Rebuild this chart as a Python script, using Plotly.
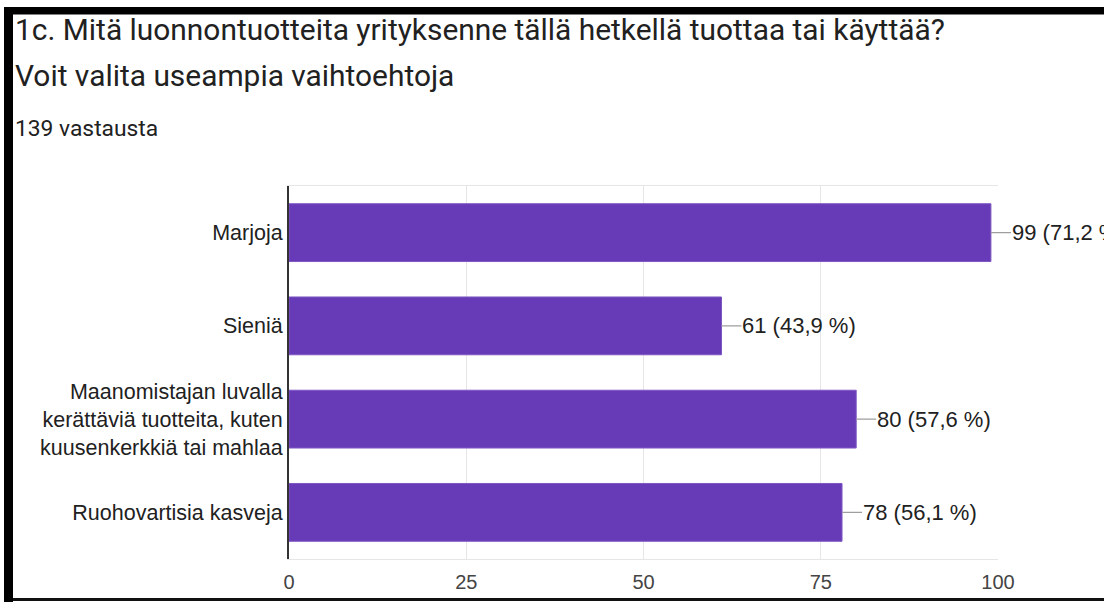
import plotly.graph_objects as go

# Survey answers (139 respondents, multiple choice)
categories = [
    "Marjoja",
    "Sieniä",
    "Maanomistajan luvalla<br>kerättäviä tuotteita, kuten<br>kuusenkerkkiä tai mahlaa",
    "Ruohovartisia kasveja",
]
counts = [99, 61, 80, 78]
percents = [71.2, 43.9, 57.6, 56.1]
x_ticks = [0, 25, 50, 75, 100]

title_line1 = "1c. Mitä luonnontuotteita yrityksenne tällä hetkellä tuottaa tai käyttää?"
title_line2 = "Voit valita useampia vaihtoehtoja"
subtitle = "139 vastausta"

W, H = 1104, 602
ML, MR, MT, MB = 289, 106, 186, 43
PW, PH = W - ML - MR, H - MT - MB


def px_x(p):
    return (p - ML) / PW


def px_y(p):
    return (H - MB - p) / PH


fig = go.Figure(
    go.Bar(
        x=counts,
        y=categories,
        orientation="h",
        marker=dict(color="#673AB7", line=dict(color="#7E57C2", width=1)),
        hoverinfo="skip",
    )
)

annotations = []
for c, p, cat in zip(counts, percents, categories):
    annotations.append(dict(
        x=c, y=cat, xref="x", yref="y",
        text=f"{c} ({p:.1f} %)".replace(".", ","),
        showarrow=True, arrowhead=0, arrowwidth=1.2, arrowcolor="#9e9e9e",
        ax=20, ay=0, xanchor="left", standoff=0, borderpad=0,
        font=dict(family="Liberation Sans, Arial", size=22, color="#212121"),
    ))

text_font = dict(family="Roboto", color="#212121")
annotations += [
    dict(x=px_x(13), y=px_y(30), xref="paper", yref="paper", xanchor="left",
         yanchor="middle", showarrow=False, text=title_line1,
         font=dict(size=29.9, **text_font)),
    dict(x=px_x(13), y=px_y(75), xref="paper", yref="paper", xanchor="left",
         yanchor="middle", showarrow=False, text=title_line2,
         font=dict(size=29.9, **text_font)),
    dict(x=px_x(13), y=px_y(129), xref="paper", yref="paper", xanchor="left",
         yanchor="middle", showarrow=False, text=subtitle,
         font=dict(size=22.8, **text_font)),
]

# Dark frame around the card
frame = "#000000"
shapes = [
    dict(type="rect", xref="paper", yref="paper", x0=px_x(4), x1=px_x(13),
         y0=px_y(602), y1=px_y(7), fillcolor=frame, line_width=0, layer="above"),
    dict(type="rect", xref="paper", yref="paper", x0=px_x(13), x1=px_x(1104),
         y0=px_y(14.5), y1=px_y(7), fillcolor=frame, line_width=0, layer="above"),
    dict(type="rect", xref="paper", yref="paper", x0=px_x(13), x1=px_x(1104),
         y0=px_y(601), y1=px_y(598), fillcolor="#111111", line_width=0, layer="above"),
]

fig.update_layout(
    width=W, height=H,
    margin=dict(l=ML, r=MR, t=MT, b=MB, pad=0),
    paper_bgcolor="white", plot_bgcolor="white",
    showlegend=False,
    bargap=0.38,
    annotations=annotations,
    shapes=shapes,
    xaxis=dict(
        range=[0, 100], tickvals=x_ticks, ticktext=[str(t) for t in x_ticks],
        showgrid=True, gridcolor="#e6e6e6", gridwidth=1,
        showline=True, linecolor="#e6e6e6", linewidth=1, mirror=True,
        zeroline=False, ticks="outside", ticklen=5, tickcolor="rgba(0,0,0,0)",
        tickfont=dict(family="Liberation Sans, Arial", size=20, color="#444444"),
        fixedrange=True, automargin=False,
    ),
    yaxis=dict(
        categoryorder="array", categoryarray=categories, autorange="reversed",
        showline=True, linecolor="#333333", linewidth=2, mirror=False,
        showgrid=False, zeroline=False, ticks="", ticklabelstandoff=0,
        tickfont=dict(family="Liberation Sans, Arial", size=21.5, color="#212121"),
        fixedrange=True, automargin=False,
    ),
)

fig.write_html("out.html")
